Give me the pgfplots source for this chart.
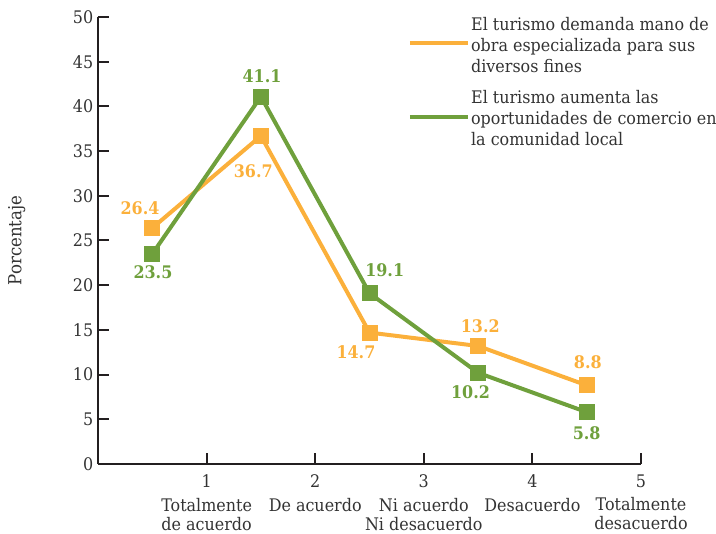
\documentclass[border=0pt]{standalone}
\usepackage{fontspec}
\setmainfont{DejaVu Serif}[FakeStretch=0.92]
\usepackage{pgfplots}
\pgfplotsset{compat=1.18}
\definecolor{orn}{HTML}{FBB03B}
\definecolor{grn}{HTML}{6FA03C}
\definecolor{axc}{HTML}{231F20}
\definecolor{txc}{HTML}{333333}
\begin{document}
\begin{tikzpicture}[font=\fontsize{13pt}{15.75pt}\selectfont]
\path[use as bounding box] (-73.5pt,-52.5pt) rectangle (463.5pt,348pt);
\begin{axis}[
  at={(0,0)}, anchor=south west,
  scale only axis, width=407.25pt, height=335.25pt,
  xmin=0, xmax=5, ymin=0, ymax=50,
  axis x line=bottom, axis y line=left,
  axis line style={-, line width=1.5pt, draw=axc},
  xtick={1,2,3,4,5}, ytick={0,5,...,50},
  xticklabels={{1\\[3.5pt]Totalmente\\de acuerdo},{2\\[3.5pt]De acuerdo\\\strut},{3\\[3.5pt]Ni acuerdo\\Ni desacuerdo},{4\\[3.5pt]Desacuerdo\\\strut},{5\\[3.5pt]Totalmente\\desacuerdo}},
  x tick label style={align=center, text=txc, anchor=north, yshift=-4.5pt, font=\fontsize{13pt}{14.2pt}\selectfont},
  y tick label style={text=txc},
  /pgf/number format/assume math mode=true,
  tick align=inside, major tick length=8.5pt,
  tick style={line width=1.5pt, draw=axc},
  ylabel={Porcentaje},
  every axis y label/.style={at={(axis description cs:0,0.5)}, xshift=-61pt, rotate=90, anchor=center, text=txc, font=\fontsize{13.5pt}{15pt}\selectfont},
  legend style={draw=none, fill=none, at={(rel axis cs:0.57,1.002)}, anchor=north west, row sep=11.25pt, inner sep=0pt, nodes={inner sep=0.5pt}, cells={align=left, text=txc}},
  legend cell align=left,
  legend image code/.code={\draw[#1, line width=3pt] (0pt,1.8pt) -- (44pt,1.8pt);},
  clip=false,
]
\addplot[orn, line width=3pt, mark=square*, mark size=4.5pt, mark options={solid}] coordinates {(0.5,26.4) (1.5,36.7) (2.5,14.7) (3.5,13.2) (4.5,8.8)};
\addlegendentry{El turismo demanda mano de\\obra especializada para sus\\diversos fines}
\addplot[grn, line width=3pt, mark=square*, mark size=4.5pt, mark options={solid}] coordinates {(0.5,23.5) (1.5,41.1) (2.5,19.1) (3.5,10.2) (4.5,5.8)};
\addlegendentry{El turismo aumenta las\\oportunidades de comercio en\\la comunidad local}
\begin{scope}[every node/.style={font=\fontsize{13pt}{14pt}\selectfont\bfseries, anchor=center}]
\node[text=orn] at (axis cs:0.387,28.6) {26.4};
\node[text=grn] at (axis cs:0.506,21.5) {23.5};
\node[text=grn] at (axis cs:1.51,43.4) {41.1};
\node[text=orn] at (axis cs:1.43,32.7) {36.7};
\node[text=grn] at (axis cs:2.64,21.7) {19.1};
\node[text=orn] at (axis cs:2.375,12.5) {14.7};
\node[text=orn] at (axis cs:3.52,15.4) {13.2};
\node[text=grn] at (axis cs:3.43,8.05) {10.2};
\node[text=orn] at (axis cs:4.51,11.4) {8.8};
\node[text=grn] at (axis cs:4.50,3.47) {5.8};
\end{scope}
\end{axis}
\end{tikzpicture}
\end{document}
